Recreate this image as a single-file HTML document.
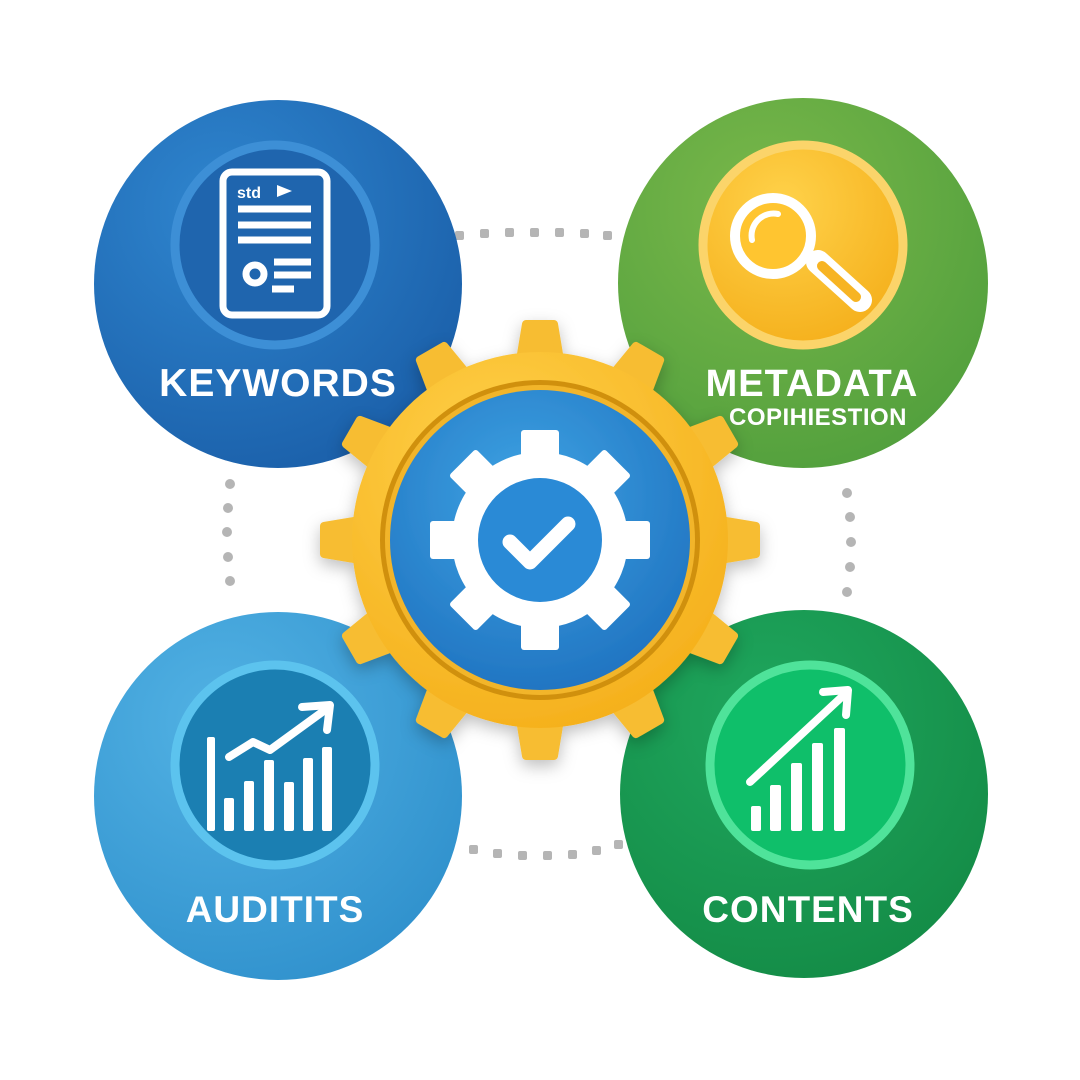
<!DOCTYPE html>
<html><head><meta charset="utf-8"><style>
html,body{margin:0;padding:0;background:#fff}
svg{display:block}
text{font-family:"Liberation Sans",sans-serif;font-weight:bold;fill:#fff}
</style></head><body>
<svg width="1080" height="1080" viewBox="0 0 1080 1080">
<defs>
<radialGradient id="gtl" cx="0.35" cy="0.3" r="0.8"><stop offset="0" stop-color="#2f86cf"/><stop offset="1" stop-color="#1a5ea8"/></radialGradient>
<radialGradient id="gtr" cx="0.4" cy="0.3" r="0.8"><stop offset="0" stop-color="#7ab84a"/><stop offset="1" stop-color="#4f9e3c"/></radialGradient>
<radialGradient id="gbl" cx="0.35" cy="0.3" r="0.8"><stop offset="0" stop-color="#52b2e4"/><stop offset="1" stop-color="#2f90cc"/></radialGradient>
<radialGradient id="gbr" cx="0.4" cy="0.3" r="0.8"><stop offset="0" stop-color="#1fa75e"/><stop offset="1" stop-color="#138a45"/></radialGradient>
<radialGradient id="gc" cx="0.45" cy="0.35" r="0.7"><stop offset="0" stop-color="#3ea3e3"/><stop offset="1" stop-color="#1f72c0"/></radialGradient>
<radialGradient id="gy" cx="0.4" cy="0.3" r="0.8"><stop offset="0" stop-color="#ffd24a"/><stop offset="1" stop-color="#f4ad18"/></radialGradient>
<filter id="sh" x="-20%" y="-20%" width="140%" height="140%"><feDropShadow dx="0" dy="6" stdDeviation="8" flood-color="#000" flood-opacity="0.25"/></filter>
</defs>
<g fill="#b5b5b5">
<rect x="455" y="231" width="9" height="9" rx="2"/><rect x="480" y="229" width="9" height="9" rx="2"/><rect x="505" y="228" width="9" height="9" rx="2"/><rect x="530" y="228" width="9" height="9" rx="2"/><rect x="555" y="228" width="9" height="9" rx="2"/><rect x="580" y="229" width="9" height="9" rx="2"/><rect x="603" y="231" width="9" height="9" rx="2"/>
<rect x="469" y="845" width="9" height="9" rx="2"/><rect x="493" y="849" width="9" height="9" rx="2"/><rect x="518" y="851" width="9" height="9" rx="2"/><rect x="543" y="851" width="9" height="9" rx="2"/><rect x="568" y="850" width="9" height="9" rx="2"/><rect x="592" y="846" width="9" height="9" rx="2"/><rect x="614" y="840" width="9" height="9" rx="2"/>
<circle cx="230" cy="484" r="5"/><circle cx="228" cy="508" r="5"/><circle cx="227" cy="532" r="5"/><circle cx="228" cy="557" r="5"/><circle cx="230" cy="581" r="5"/>
<circle cx="847" cy="493" r="5"/><circle cx="850" cy="517" r="5"/><circle cx="851" cy="542" r="5"/><circle cx="850" cy="567" r="5"/><circle cx="847" cy="592" r="5"/>
</g>
<circle cx="278" cy="284" r="184" fill="url(#gtl)"/>
<circle cx="803" cy="283" r="185" fill="url(#gtr)"/>
<circle cx="278" cy="796" r="184" fill="url(#gbl)"/>
<circle cx="804" cy="794" r="184" fill="url(#gbr)"/>
<circle cx="275" cy="245" r="100" fill="#1f65ae" stroke="#3d8fd6" stroke-width="9"/>
<circle cx="803" cy="245" r="100" fill="url(#gy)" stroke="#fbd46a" stroke-width="9"/>
<circle cx="275" cy="765" r="100" fill="#1b7fb2" stroke="#5cc3ee" stroke-width="9"/>
<circle cx="810" cy="765" r="100" fill="#0fbf6a" stroke="#4fe39a" stroke-width="9"/>
<g fill="none" stroke="#fff" stroke-width="7">
<rect x="223" y="172" width="104" height="143" rx="9"/>
<line x1="238" y1="209" x2="311" y2="209"/><line x1="238" y1="225" x2="311" y2="225"/><line x1="238" y1="240" x2="311" y2="240"/>
<line x1="274" y1="262" x2="311" y2="262"/><line x1="274" y1="275" x2="311" y2="275"/><line x1="272" y1="289" x2="294" y2="289"/>
<circle cx="255" cy="274" r="9"/>
</g>
<text x="237" y="198" font-size="16">std</text>
<polygon points="277,185 292,191 277,197" fill="#fff"/>
<g stroke-linecap="round">
<line x1="818" y1="262" x2="860" y2="300" stroke="#fff" stroke-width="24"/>
<line x1="822" y1="266" x2="856" y2="297" stroke="#f7b423" stroke-width="10"/>
<circle cx="773" cy="236" r="38" fill="#ffc530" stroke="#fff" stroke-width="10"/>
<path d="M752 240 A22 22 0 0 1 778 214" fill="none" stroke="#fff" stroke-width="6"/>
</g>
<g fill="#fff">
<rect x="207" y="737" width="8" height="94" rx="2"/>
<rect x="224" y="798" width="10" height="33" rx="2"/><rect x="244" y="781" width="10" height="50" rx="2"/><rect x="264" y="760" width="10" height="71" rx="2"/><rect x="284" y="782" width="10" height="49" rx="2"/><rect x="303" y="758" width="10" height="73" rx="2"/><rect x="322" y="747" width="10" height="84" rx="2"/>
</g>
<polyline points="229,757 253,742 270,750 325,710" fill="none" stroke="#fff" stroke-width="8" stroke-linejoin="round" stroke-linecap="round"/>
<polyline points="302,707 330,705 327,730" fill="none" stroke="#fff" stroke-width="8" stroke-linejoin="round" stroke-linecap="round"/>
<g fill="#fff">
<rect x="751" y="806" width="10" height="25" rx="2"/><rect x="770" y="785" width="11" height="46" rx="2"/><rect x="791" y="763" width="11" height="68" rx="2"/><rect x="812" y="743" width="11" height="88" rx="2"/><rect x="834" y="728" width="11" height="103" rx="2"/>
</g>
<line x1="750" y1="782" x2="846" y2="693" stroke="#fff" stroke-width="8" stroke-linecap="round"/>
<polyline points="823,692 848,690 846,715" fill="none" stroke="#fff" stroke-width="8" stroke-linejoin="round" stroke-linecap="round"/>
<text x="278" y="396" font-size="39" text-anchor="middle" letter-spacing="1">KEYWORDS</text>
<text x="812" y="396" font-size="38" text-anchor="middle" letter-spacing="1">METADATA</text>
<text x="818" y="425" font-size="24" text-anchor="middle" letter-spacing="0.5">COPIHIESTION</text>
<text x="275" y="922" font-size="37" text-anchor="middle" letter-spacing="1">AUDITITS</text>
<text x="808" y="922" font-size="37" text-anchor="middle" letter-spacing="1">CONTENTS</text>
<g transform="translate(540,540)" filter="url(#sh)">
<g fill="#f7bd33" stroke="#f7bd33" stroke-width="8" stroke-linejoin="round">
<g id="t"><polygon points="-22,-168 22,-168 14,-216 -14,-216"/></g>
<use href="#t" transform="rotate(30)"/><use href="#t" transform="rotate(60)"/><use href="#t" transform="rotate(90)"/><use href="#t" transform="rotate(120)"/><use href="#t" transform="rotate(150)"/><use href="#t" transform="rotate(180)"/><use href="#t" transform="rotate(210)"/><use href="#t" transform="rotate(240)"/><use href="#t" transform="rotate(270)"/><use href="#t" transform="rotate(300)"/><use href="#t" transform="rotate(330)"/>
</g>
<circle r="188" fill="url(#gy)"/>
<circle r="160" fill="#d0900f"/>
<circle r="155" fill="#f2b52c"/>
<circle r="150" fill="url(#gc)"/>
<g fill="#fff">
<g id="w"><rect x="-19" y="-110" width="38" height="42" rx="3"/></g>
<use href="#w" transform="rotate(45)"/><use href="#w" transform="rotate(90)"/><use href="#w" transform="rotate(135)"/><use href="#w" transform="rotate(180)"/><use href="#w" transform="rotate(225)"/><use href="#w" transform="rotate(270)"/><use href="#w" transform="rotate(315)"/>
<circle r="88"/>
</g>
<circle r="62" fill="#2a8ad6"/>
<polyline points="-30,2 -10,22 28,-16" fill="none" stroke="#fff" stroke-width="15" stroke-linecap="round" stroke-linejoin="round"/>
</g>
</svg>
</body></html>
